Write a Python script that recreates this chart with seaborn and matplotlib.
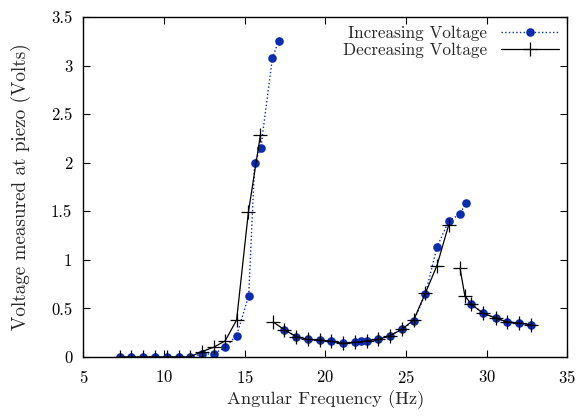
import pandas as pd
import seaborn as sns
import matplotlib.pyplot as plt
from matplotlib.lines import Line2D
from matplotlib.ticker import FormatStrFormatter, MultipleLocator

# Increasing voltage sweep (three separate runs)
inc_seg1_x = [7.25, 7.98, 8.71, 9.44, 10.17, 10.9, 11.58, 12.35, 13.08, 13.79, 14.5, 15.25, 15.62, 16.0, 16.72, 17.1]
inc_seg1_y = [0, 0, 0, 0, 0, 0, 0, 0.03, 0.03, 0.10, 0.22, 0.63, 2.0, 2.15, 3.08, 3.25]
inc_seg2_x = [17.46, 18.19, 18.92, 19.65, 20.38, 21.1, 21.84, 22.19, 22.56, 23.29, 24.02, 24.75, 25.48, 26.21, 26.92, 27.65, 28.35, 28.7]
inc_seg2_y = [0.28, 0.21, 0.18, 0.175, 0.16, 0.145, 0.15, 0.16, 0.165, 0.18, 0.22, 0.285, 0.37, 0.65, 1.13, 1.40, 1.47, 1.585]
inc_seg3_x = [29.06, 29.79, 30.56, 31.29, 32.02, 32.75]
inc_seg3_y = [0.54, 0.45, 0.40, 0.36, 0.35, 0.33]

# Decreasing voltage sweep
dec_seg1_x = [7.25, 7.98, 8.71, 9.44, 10.17, 10.9, 11.58, 12.35, 13.08, 13.79, 14.5, 15.23, 15.98]
dec_seg1_y = [0, 0, 0, 0, 0, 0, 0, 0.055, 0.10, 0.165, 0.38, 1.49, 2.29]
dec_seg2_x = [16.77, 17.46, 18.19, 18.92, 19.65, 20.38, 21.1, 21.84, 22.56, 23.29, 24.02, 24.75, 25.48, 26.21, 26.92, 27.65]
dec_seg2_y = [0.36, 0.28, 0.21, 0.18, 0.175, 0.16, 0.14, 0.15, 0.165, 0.18, 0.22, 0.285, 0.38, 0.66, 0.94, 1.36]
dec_seg3_x = [28.35, 28.65, 29.06, 29.79, 30.56, 31.29, 32.02, 32.75]
dec_seg3_y = [0.915, 0.63, 0.54, 0.45, 0.40, 0.36, 0.35, 0.33]


def make_df(segs):
    rows = []
    for i, (xs, ys) in enumerate(segs):
        for x, y in zip(xs, ys):
            rows.append({"freq": x, "volt": y, "seg": i})
    return pd.DataFrame(rows)


inc = make_df([(inc_seg1_x, inc_seg1_y), (inc_seg2_x, inc_seg2_y), (inc_seg3_x, inc_seg3_y)])
dec = make_df([(dec_seg1_x, dec_seg1_y), (dec_seg2_x, dec_seg2_y), (dec_seg3_x, dec_seg3_y)])

sns.set_theme(style="ticks")
plt.rcParams["font.family"] = ["cmr10", "DejaVu Serif"]
plt.rcParams["mathtext.fontset"] = "cm"
plt.rcParams["axes.unicode_minus"] = False
plt.rcParams["axes.formatter.use_mathtext"] = True

blue = "#0a2db0"
inc_style = dict(color=blue, linestyle=":", linewidth=1.0, marker="o", markersize=6.2,
                 markeredgewidth=0, markeredgecolor=blue, markerfacecolor=blue)
dec_style = dict(color="black", linestyle="-", linewidth=0.9, marker="+", markersize=10,
                 markeredgewidth=0.9, markeredgecolor="black")

fig = plt.figure(figsize=(5.83, 4.16), dpi=100)
ax = fig.add_axes([0.143, 0.142, 0.83, 0.817])

sns.lineplot(data=inc, x="freq", y="volt", units="seg", estimator=None, sort=False,
             ax=ax, zorder=2, **inc_style)
sns.lineplot(data=dec, x="freq", y="volt", units="seg", estimator=None, sort=False,
             ax=ax, zorder=3, **dec_style)

ax.set_xlim(5, 35)
ax.set_ylim(0, 3.5)
ax.xaxis.set_major_locator(MultipleLocator(5))
ax.yaxis.set_major_locator(MultipleLocator(0.5))
ax.yaxis.set_major_formatter(FormatStrFormatter("%g"))
ax.tick_params(direction="in", top=True, right=True, length=5, width=0.8,
               labelsize=12, colors="black")
ax.tick_params(axis="x", pad=9)
ax.tick_params(axis="y", pad=8)
for s in ax.spines.values():
    s.set_linewidth(1.0)
    s.set_color("black")

ax.set_xlabel("Angular Frequency (Hz)", fontsize=13.3, labelpad=3)
ax.set_ylabel("Voltage measured at piezo (Volts)", fontsize=13.8, labelpad=14)

handles = [Line2D([], [], **inc_style), Line2D([], [], **dec_style)]
ax.legend(handles, ["Increasing Voltage", "Decreasing Voltage"], loc="upper right",
          frameon=False, markerfirst=False, fontsize=12.3, handlelength=3.4,
          labelspacing=0.1, borderaxespad=0.1, handletextpad=0.8)

fig.savefig("out.png", dpi=100)
